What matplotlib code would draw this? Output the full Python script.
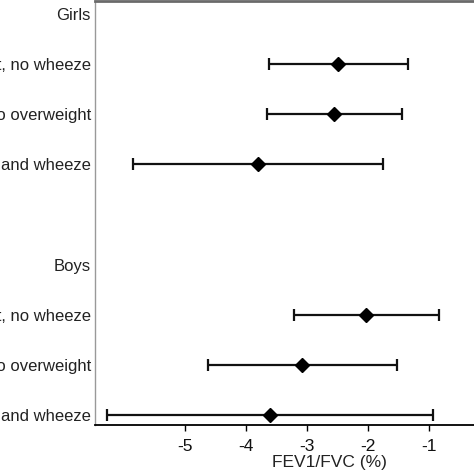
import matplotlib
matplotlib.use("Agg")
import matplotlib.pyplot as plt
import numpy as np

plt.rcParams['font.family'] = ['Liberation Sans', 'DejaVu Sans']

row_labels = ["Girls", "Overweight, no wheeze", "Wheeze, no overweight", "Overweight and wheeze", "",
              "Boys", "Overweight, no wheeze", "Wheeze, no overweight", "Overweight and wheeze"]
est_rows = [1, 2, 3, 6, 7, 8]
estimates = [-2.49, -2.56, -3.81, -2.03, -3.08, -3.61]
lower = [-3.62, -3.66, -5.86, -3.21, -4.62, -6.28]
upper = [-1.34, -1.44, -1.75, -0.84, -1.52, -0.93]
xticks = [-5, -4, -3, -2, -1]

fig = plt.figure(figsize=(4.74, 4.74), dpi=100)
# axes extends beyond the right edge (reference is cropped there)
ax = fig.add_axes([95/474, 1 - 425/474, (563 - 95)/474, 424/474])

est = np.array(estimates)
xerr = np.vstack([est - np.array(lower), np.array(upper) - est])
ax.errorbar(est, est_rows, xerr=xerr, fmt='D', color='black', ms=7.5,
            ecolor='#111111', elinewidth=1.6, capsize=4.5, capthick=1.6)

ax.set_yticks(range(len(row_labels)))
ax.set_yticklabels(row_labels, fontsize=12, color='#222222')
ax.tick_params(axis='y', length=0, pad=3)
ax.set_ylim(8.2, -0.26)

px_per_unit = 61.0
ax.set_xlim(-5 - 90/px_per_unit, -1 + (563 - 429)/px_per_unit)
ax.set_xticks(xticks)
ax.set_xticklabels([str(t) for t in xticks], fontsize=12.5, color='#111111')
ax.tick_params(axis='x', length=4, width=1, pad=6)
ax.set_xlabel("FEV1/FVC (%)", fontsize=12.5, labelpad=1, color='#222222')

ax.spines['right'].set_visible(False)
ax.spines['top'].set_color('#6a6a6a')
ax.spines['top'].set_linewidth(2)
ax.spines['left'].set_color('#999999')
ax.spines['left'].set_linewidth(1)
ax.spines['bottom'].set_color('black')
ax.spines['bottom'].set_linewidth(1.3)

fig.savefig("out.png", dpi=100)
